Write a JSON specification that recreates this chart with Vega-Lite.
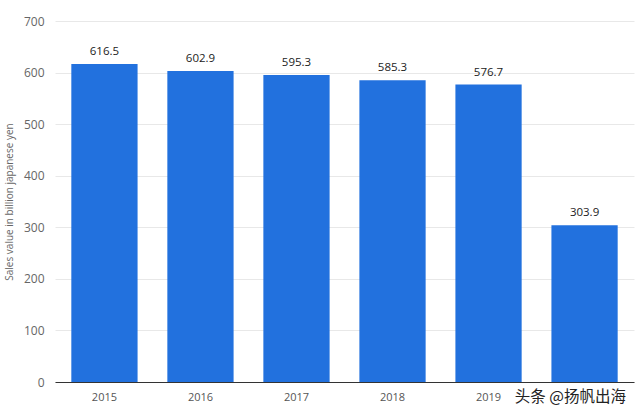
{
  "$schema": "https://vega.github.io/schema/vega-lite/v6.json",
  "width": 579,
  "height": 361,
  "autosize": {"type": "none"},
  "padding": {"left": 55, "top": 21, "right": 6, "bottom": 33},
  "background": "#ffffff",
  "config": {
    "view": {"stroke": null},
    "font": "Open Sans"
  },
  "title": {
    "text": "头条 @扬帆出海",
    "orient": "bottom",
    "anchor": "end",
    "offset": 2,
    "dx": -8,
    "dy": -14,
    "fontSize": 15.5,
    "fontWeight": "normal",
    "color": "#222222",
    "font": "Noto Sans CJK SC"
  },
  "data": {
    "values": [
      {"year": "2015", "value": 616.5},
      {"year": "2016", "value": 602.9},
      {"year": "2017", "value": 595.3},
      {"year": "2018", "value": 585.3},
      {"year": "2019", "value": 576.7},
      {"year": "2020", "value": 303.9}
    ]
  },
  "encoding": {
    "x": {
      "field": "year",
      "type": "nominal",
      "scale": {"paddingInner": 0.31, "paddingOuter": 0.17},
      "axis": {
        "title": null,
        "labelAngle": 0,
        "ticks": false,
        "labelPadding": 9,
        "labelFontSize": 11,
        "labelColor": "#555555",
        "domainColor": "#333333",
        "domainWidth": 1.2,
        "labelExpr": "datum.label == '2020' ? '' : datum.label"
      }
    },
    "y": {
      "field": "value",
      "type": "quantitative",
      "scale": {"domain": [0, 700]},
      "axis": {
        "title": "Sales value in billion japanese yen",
        "titleFontSize": 10,
        "titleFontWeight": "normal",
        "titleColor": "#666666",
        "titlePadding": 9,
        "values": [0, 100, 200, 300, 400, 500, 600, 700],
        "ticks": false,
        "domain": false,
        "labelPadding": 11,
        "labelFontSize": 12,
        "labelColor": "#666666",
        "gridColor": "#e8e8e8",
        "gridWidth": 1
      }
    }
  },
  "layer": [
    {"mark": {"type": "bar", "color": "#2271de"}},
    {
      "mark": {"type": "text", "baseline": "bottom", "dy": -7, "fontSize": 11.5, "color": "#222222"},
      "encoding": {"text": {"field": "value", "type": "quantitative", "format": ".1f"}}
    }
  ]
}
